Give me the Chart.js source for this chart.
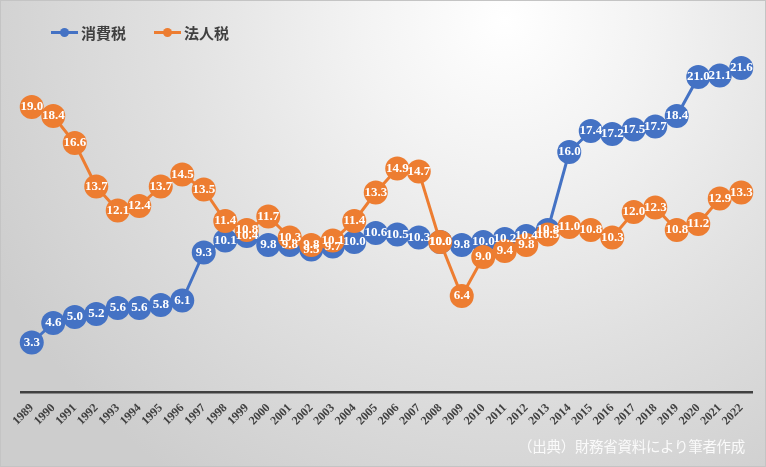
<!DOCTYPE html>
<html>
<head>
<meta charset="utf-8">
<script src="https://cdn.jsdelivr.net/npm/chart.js@4.4.1/dist/chart.umd.min.js"></script>
<style>
  html, body { margin: 0; padding: 0; }
  body { width: 766px; height: 467px; overflow: hidden; }
  #wrap {
    position: relative; width: 766px; height: 467px; box-sizing: border-box;
    border: 1px solid #c4c4c4;
    background: radial-gradient(ellipse 75% 120% at 66% 4%, #ffffff 0%, #f3f3f3 25%, #e0e0e0 60%, #cdcdcd 100%);
  }
  #chart { position: absolute; left: 0; top: 0; }
  .legend { position: absolute; top: 21px; font: bold 15px "Noto Sans CJK JP", sans-serif; color: #404040; display: flex; align-items: center; }
  .legend i { position: relative; display: inline-block; width: 27px; height: 3px; margin-right: 3px; }
  .legend i b { position: absolute; left: 9px; top: -3px; width: 9px; height: 9px; border-radius: 50%; background: inherit; }
  #source { position: absolute; right: 20px; top: 434px; font: 14.5px "Noto Sans CJK JP", sans-serif; color: #fafafa; letter-spacing: -0.3px; }
</style>
</head>
<body>
<div id="wrap">
  <canvas id="chart" width="766" height="467"></canvas>
  <div class="legend" style="left:50px"><i style="background:#4472C4"><b></b></i>消費税</div>
  <div class="legend" style="left:153px"><i style="background:#ED7D31"><b></b></i>法人税</div>
  <div id="source">（出典）財務省資料により筆者作成</div>
</div>
<script>
// 消費税・法人税の税収推移（兆円）

const YEARS = [
  '1989', '1990', '1991', '1992', '1993', '1994', '1995', '1996', '1997', '1998',
  '1999', '2000', '2001', '2002', '2003', '2004', '2005', '2006', '2007', '2008',
  '2009', '2010', '2011', '2012', '2013', '2014', '2015', '2016', '2017', '2018',
  '2019', '2020', '2021', '2022',
];
const CONSUMPTION_TAX = [
  3.3, 4.6, 5.0, 5.2, 5.6, 5.6, 5.8, 6.1, 9.3, 10.1,
  10.4, 9.8, 9.8, 9.5, 9.7, 10.0, 10.6, 10.5, 10.3, 10.0,
  9.8, 10.0, 10.2, 10.4, 10.8, 16.0, 17.4, 17.2, 17.5, 17.7,
  18.4, 21.0, 21.1, 21.6,
];
const CORPORATE_TAX = [
  19.0, 18.4, 16.6, 13.7, 12.1, 12.4, 13.7, 14.5, 13.5, 11.4,
  10.8, 11.7, 10.3, 9.8, 10.1, 11.4, 13.3, 14.9, 14.7, 10.0,
  6.4, 9.0, 9.4, 9.8, 10.5, 11.0, 10.8, 10.3, 12.0, 12.3,
  10.8, 11.2, 12.9, 13.3,
];

const BLUE = '#4472C4';
const ORANGE = '#ED7D31';

// White value labels centred on each marker, drawn after every series.
const valueLabels = {
  id: 'valueLabels',
  afterDatasetsDraw(chart) {
    const ctx = chart.ctx;
    ctx.save();
    ctx.font = 'bold 13px "Liberation Serif", serif';
    ctx.fillStyle = '#ffffff';
    ctx.textAlign = 'center';
    ctx.textBaseline = 'middle';
    chart.data.datasets.forEach((ds, di) => {
      const meta = chart.getDatasetMeta(di);
      meta.data.forEach((pt, i) => {
        ctx.fillText(ds.data[i].toFixed(1), pt.x, pt.y);
      });
    });
    ctx.restore();
  },
};

function series(label, data, color, order) {
  return {
    label, data, order,
    borderColor: color,
    backgroundColor: color,
    borderWidth: 3,
    pointRadius: 12,
    pointHoverRadius: 12,
    pointBorderWidth: 0,
    pointBackgroundColor: color,
    tension: 0,
  };
}

new Chart(document.getElementById('chart'), {
  type: 'line',
  data: {
    labels: YEARS,
    datasets: [
      series('消費税', CONSUMPTION_TAX, BLUE, 1),
      series('法人税', CORPORATE_TAX, ORANGE, 0),
    ],
  },
  options: {
    responsive: false,
    animation: false,
    layout: { padding: { top: 16, right: 15, bottom: 0, left: 20 } },
    plugins: { legend: { display: false }, tooltip: { enabled: false } },
    scales: {
      x: {
        offset: true,
        grid: { display: false, drawTicks: false },
        border: { display: true, color: '#404040', width: 2.5 },
        afterFit: s => { s.height = 76; },
        ticks: {
          minRotation: 45, maxRotation: 45, autoSkip: false, padding: 9,
          color: '#404040',
          font: { size: 12, weight: 'bold', family: '"Liberation Serif", serif' },
        },
      },
      y: { display: false, min: 0, max: 25 },
    },
  },
  plugins: [valueLabels],
});
</script>
</body>
</html>
